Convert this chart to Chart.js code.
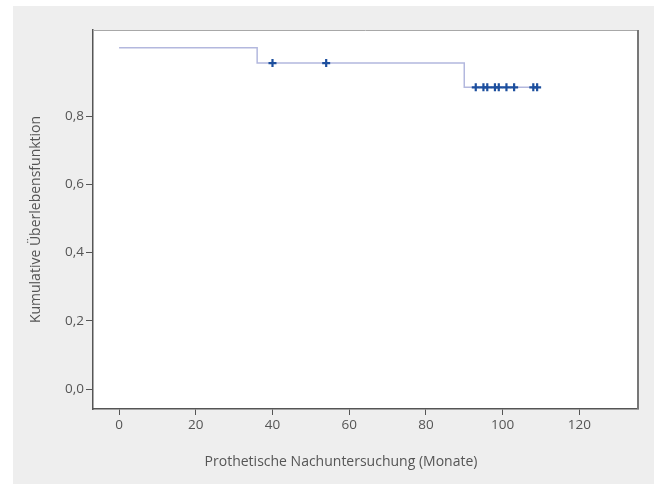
<!DOCTYPE html>
<html>
<head>
<meta charset="utf-8">
<script src="https://cdn.jsdelivr.net/npm/chart.js@4/dist/chart.umd.min.js"></script>
<style>
  body { margin: 0; background: #ffffff; }
  #km { position: absolute; left: 13px; top: 6px; background: #eeeeee; }
</style>
</head>
<body>
<canvas id="km" width="641" height="478"></canvas>
<script>
// Kaplan-Meier step points (months, survival)
const stepTimes = [0, 36, 90, 109];
const stepSurvival = [1.0, 0.955, 0.884, 0.884];

// censored cases
const censorTimes = [40, 54, 93, 95, 96, 98, 99, 101, 103, 108, 109];
const censorSurvival = [0.955, 0.955, 0.884, 0.884, 0.884, 0.884, 0.884, 0.884, 0.884, 0.884, 0.884];

const xTicks = [0, 20, 40, 60, 80, 100, 120];
const yTicks = [0, 0.2, 0.4, 0.6, 0.8];

const xTitle = 'Prothetische Nachuntersuchung (Monate)';
const yTitle = 'Kumulative Überlebensfunktion';

const fontFamily = '"Open Sans", "Noto Sans", sans-serif';
const textColor = '#555555';
const axisColor = '#555555';

const ctx = document.getElementById('km').getContext('2d');

// white plot area, the frame's top/right edges and the axis titles
const framePlugin = {
    id: 'frame',
    beforeDraw(chart) {
        const a = chart.chartArea;
        const c = chart.ctx;
        c.save();
        c.fillStyle = '#ffffff';
        c.fillRect(a.left, a.top, a.right - a.left, a.bottom - a.top);
        c.restore();
    },
    afterDraw(chart) {
        const a = chart.chartArea;
        const c = chart.ctx;
        c.save();
        c.strokeStyle = '#a8a8a8';
        c.lineWidth = 1;
        c.beginPath();
        c.moveTo(a.left, a.top + 0.5);
        c.lineTo(a.right, a.top + 0.5);
        c.stroke();
        c.strokeStyle = '#777777';
        c.lineWidth = 2;
        c.beginPath();
        c.moveTo(a.right, a.top);
        c.lineTo(a.right, a.bottom);
        c.stroke();

        c.fillStyle = textColor;
        c.font = '14px ' + fontFamily;
        c.textAlign = 'center';
        c.textBaseline = 'middle';
        c.fillText(xTitle, 328, 456);
        c.translate(23, (a.top + a.bottom) / 2);
        c.rotate(-Math.PI / 2);
        c.fillText(yTitle, 0, 0);
        c.restore();
    }
};

new Chart(ctx, {
    type: 'scatter',
    data: {
        datasets: [{
            label: 'Zensiert',
            data: censorTimes.map((t, i) => ({ x: t, y: censorSurvival[i] })),
            pointStyle: 'cross',
            pointRadius: 4,
            borderColor: '#1d4f9e',
            backgroundColor: '#1d4f9e',
            borderWidth: 2.2,
            order: 0
        }, {
            label: 'Überleben',
            data: stepTimes.map((t, i) => ({ x: t, y: stepSurvival[i] })),
            showLine: true,
            stepped: true,
            borderColor: '#b3b8de',
            borderWidth: 1.5,
            pointRadius: 0,
            fill: false,
            order: 1
        }]
    },
    options: {
        responsive: false,
        animation: false,
        layout: { padding: { left: 0, top: 24, right: 16, bottom: 0 } },
        plugins: {
            legend: { display: false },
            tooltip: { enabled: false }
        },
        scales: {
            x: {
                type: 'linear',
                min: -6.8,
                max: 135.3,
                afterBuildTicks: (scale) => { scale.ticks = xTicks.map(v => ({ value: v })); },
                afterFit: (scale) => { scale.height = 75; },
                grid: { drawOnChartArea: false, drawTicks: true, tickLength: 6, color: axisColor },
                border: { display: true, color: axisColor, width: 1.5 },
                ticks: {
                    color: textColor,
                    font: { size: 13.5, family: fontFamily },
                    padding: 2,
                    maxRotation: 0,
                    callback: (v) => String(v)
                }
            },
            y: {
                type: 'linear',
                min: -0.0585,
                max: 1.052,
                afterBuildTicks: (scale) => { scale.ticks = yTicks.map(v => ({ value: v })); },
                afterFit: (scale) => { scale.width = 80; },
                grid: { drawOnChartArea: false, drawTicks: true, tickLength: 7, color: axisColor },
                border: { display: true, color: axisColor, width: 1.5 },
                ticks: {
                    color: textColor,
                    font: { size: 13.5, family: fontFamily },
                    padding: 2,
                    callback: (v) => v.toFixed(1).replace('.', ',')
                }
            }
        }
    },
    plugins: [framePlugin]
});
</script>
</body>
</html>
